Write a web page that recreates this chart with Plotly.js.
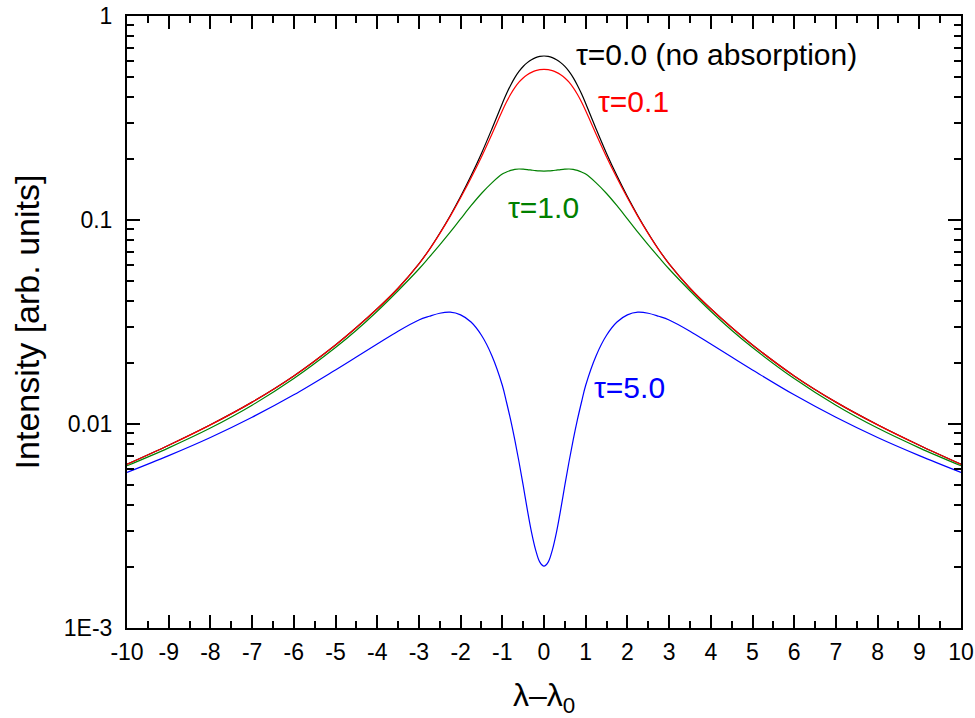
<!DOCTYPE html>
<html>
<head>
<meta charset="utf-8">
<script src="https://cdn.plot.ly/plotly-3.0.1.min.js"></script>
<style>html,body{margin:0;padding:0;background:#fff;}#chart{width:975px;height:718px;}</style>
</head>
<body>
<div id="chart"></div>
<script>
// Wavelength offset (lambda - lambda0)
const xVals = [-10,-9,-8,-7,-6,-5,-4.5,-4,-3.5,-3,-2.75,-2.5,-2.25,-2,-1.75,-1.5,-1.25,-1,-0.9,-0.8,-0.7,-0.6,-0.5,-0.4,-0.3,-0.2,-0.1,
               0,
               0.1,0.2,0.3,0.4,0.5,0.6,0.7,0.8,0.9,1,1.25,1.5,1.75,2,2.25,2.5,2.75,3,3.5,4,4.5,5,6,7,8,9,10];

// tau = 0.0 (no absorption)
const tau00 = [0.00635,0.00787,0.00991,0.0128,0.0172,0.0244,0.0297,0.0367,0.0463,0.0610,0.0717,0.0861,0.1050,0.1303,0.1646,0.2120,0.2795,0.3727,0.4157,0.4581,0.4988,0.5352,0.5658,0.5909,0.6109,0.6252,0.6339,
               0.6368,
               0.6339,0.6252,0.6109,0.5909,0.5658,0.5352,0.4988,0.4581,0.4157,0.3727,0.2795,0.2120,0.1646,0.1303,0.1050,0.0861,0.0717,0.0610,0.0463,0.0367,0.0297,0.0244,0.0172,0.0128,0.00991,0.00787,0.00635];
// tau = 0.1
const tau01 = [0.00634,0.00786,0.0099,0.0128,0.0172,0.0244,0.0297,0.0367,0.0463,0.0609,0.0716,0.0858,0.1042,0.1285,0.1606,0.2037,0.2633,0.3429,0.3786,0.4133,0.4455,0.4738,0.4968,0.5151,0.5294,0.5395,0.5456,
               0.5476,
               0.5456,0.5395,0.5294,0.5151,0.4968,0.4738,0.4455,0.4133,0.3786,0.3429,0.2633,0.2037,0.1606,0.1285,0.1042,0.0858,0.0716,0.0609,0.0463,0.0367,0.0297,0.0244,0.0172,0.0128,0.0099,0.00786,0.00634];
// tau = 1.0
const tau10 = [0.00624,0.00764,0.00955,0.01236,0.0167,0.0237,0.0288,0.0357,0.0450,0.0575,0.0658,0.0755,0.0871,0.1012,0.1175,0.1349,0.1521,0.1679,0.1718,0.1750,0.1772,0.1778,0.1774,0.1766,0.1756,0.1746,0.1740,
               0.1738,
               0.1740,0.1746,0.1756,0.1766,0.1774,0.1778,0.1772,0.1750,0.1718,0.1679,0.1521,0.1349,0.1175,0.1012,0.0871,0.0755,0.0658,0.0575,0.0450,0.0357,0.0288,0.0237,0.0167,0.01236,0.00955,0.00764,0.00624];
// tau = 5.0
const tau50 = [0.00579,0.00700,0.00859,0.01079,0.01390,0.01841,0.02128,0.02466,0.02851,0.03236,0.03373,0.03491,0.03532,0.03428,0.03162,0.02723,0.02163,0.01549,0.01282,0.01047,0.008356,0.006531,0.005012,0.003802,0.002951,0.002410,0.002102,
               0.002009,
               0.002102,0.002410,0.002951,0.003802,0.005012,0.006531,0.008356,0.01047,0.01282,0.01549,0.02163,0.02723,0.03162,0.03428,0.03532,0.03491,0.03373,0.03236,0.02851,0.02466,0.02128,0.01841,0.01390,0.01079,0.00859,0.00700,0.00579];

const xTickVals = [-10,-9,-8,-7,-6,-5,-4,-3,-2,-1,0,1,2,3,4,5,6,7,8,9,10];
const xTickText = ['-10','-9','-8','-7','-6','-5','-4','-3','-2','-1','0','1','2','3','4','5','6','7','8','9','10'];
const yTickVals = [0.001,0.01,0.1,1];
const yTickText = ['1E-3','0.01','0.1','1'];
const yMinorVals = [0.002,0.003,0.004,0.005,0.006,0.007,0.008,0.009,
                    0.02,0.03,0.04,0.05,0.06,0.07,0.08,0.09,
                    0.2,0.3,0.4,0.5,0.6,0.7,0.8,0.9];

const seriesNames = ['τ=0.0','τ=0.1','τ=1.0','τ=5.0'];
const seriesData = [tau00, tau01, tau10, tau50];
const seriesColors = ['#000000','#ff0000','#008000','#0000ff'];

const FONT = 'Liberation Sans, Arial, Helvetica, sans-serif';

const traces = seriesData.map((ys, i) => ({
  x: xVals, y: ys, type: 'scatter', mode: 'lines', name: seriesNames[i],
  line: {color: seriesColors[i], width: 1.2, shape: 'spline', smoothing: 1},
  hoverinfo: 'x+y'
}));

const layout = {
  width: 975, height: 718,
  margin: {l: 127, r: 14, t: 16, b: 90},
  paper_bgcolor: '#ffffff', plot_bgcolor: '#ffffff',
  showlegend: false,
  font: {family: FONT, color: '#000', size: 23},
  xaxis: {
    range: [-10, 10], tickmode: 'array', tickvals: xTickVals, ticktext: xTickText,
    ticks: 'inside', ticklen: 13, tickwidth: 2, tickcolor: '#000', ticklabelstandoff: 2,
    minor: {dtick: 0.5, tick0: 0, ticks: 'inside', ticklen: 7, tickwidth: 2, tickcolor: '#000', showgrid: false},
    showline: true, linewidth: 2, linecolor: '#000', mirror: 'allticks',
    showgrid: false, zeroline: false,
    tickfont: {family: FONT, size: 23, color: '#000'}
  },
  yaxis: {
    type: 'log', range: [-3, 0], tickmode: 'array', tickvals: yTickVals, ticktext: yTickText,
    ticks: 'inside', ticklen: 13, tickwidth: 2, tickcolor: '#000', ticklabelstandoff: 8,
    minor: {tickmode: 'array', tickvals: yMinorVals, ticks: 'inside', ticklen: 7, tickwidth: 2, tickcolor: '#000', showgrid: false},
    showline: true, linewidth: 2, linecolor: '#000', mirror: 'allticks',
    showgrid: false, zeroline: false,
    tickfont: {family: FONT, size: 23, color: '#000'},
    title: {text: 'Intensity [arb. units]', font: {family: FONT, size: 34, color: '#000'}, standoff: 14}
  },
  annotations: [
    {text: 'λ–λ<sub>0</sub>', x: 0.5, y: -0.077, xref: 'paper', yref: 'paper', xanchor: 'center', yanchor: 'top', showarrow: false, font: {family: FONT, size: 32, color: '#000'}},
    {text: 'τ=0.0 (no absorption)', x: 0.72, y: -0.191, xref: 'x', yref: 'y', xanchor: 'left', yanchor: 'middle', showarrow: false, font: {family: FONT, size: 30, color: '#000000'}},
    {text: 'τ=0.1', x: 1.25, y: -0.42, xref: 'x', yref: 'y', xanchor: 'left', yanchor: 'middle', showarrow: false, font: {family: FONT, size: 30, color: '#ff0000'}},
    {text: 'τ=1.0', x: -0.9, y: -0.94, xref: 'x', yref: 'y', xanchor: 'left', yanchor: 'middle', showarrow: false, font: {family: FONT, size: 30, color: '#008000'}},
    {text: 'τ=5.0', x: 1.15, y: -1.82, xref: 'x', yref: 'y', xanchor: 'left', yanchor: 'middle', showarrow: false, font: {family: FONT, size: 30, color: '#0000ff'}}
  ]
};

Plotly.newPlot('chart', traces, layout, {displayModeBar: false, staticPlot: true});
</script>
</body>
</html>
